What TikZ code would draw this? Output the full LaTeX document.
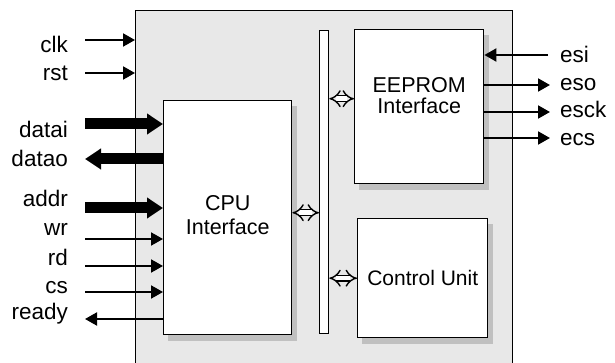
\documentclass[tikz,border=0pt]{standalone}
\usepackage{fontspec}
\setmainfont{Liberation Sans}
\usetikzlibrary{positioning, arrows.meta, calc}
\definecolor{chipgray}{HTML}{E8E8E8}
\definecolor{shadegray}{HTML}{C0C0C0}
\pgfdeclarelayer{back}
\pgfdeclarelayer{shade}
\pgfsetlayers{back,shade,main}

\begin{document}
\begin{tikzpicture}[
        x=1pt, y=-1pt,
        font=\fontsize{22.5}{24}\selectfont,
        box/.style  = {draw, line width=1.4pt, fill=white, anchor=north west, inner sep=0pt},
        sig/.style  = {-{Triangle[length=12pt, width=13pt]}, line width=2pt},
        wide/.style = {-{Triangle[length=16pt, width=20pt]}, line width=11pt},
        link/.style = {{Implies[length=6pt, width=17pt]}-{Implies[length=6pt, width=17pt]}, double, double distance=4.5pt, line width=1.4pt},
        lbl/.style  = {anchor=base east, inner sep=0pt},
        rlbl/.style = {anchor=base west, inner sep=0pt},
    ]
        \useasboundingbox (0,0) rectangle (615,363);
        \begin{pgfonlayer}{back}
            \node[draw, line width=1pt, fill=chipgray, anchor=north west, minimum width=377pt, minimum height=370pt, inner sep=0pt] (chip) at (135,10) {};
        \end{pgfonlayer}
        \node[box, minimum width=128pt, minimum height=234pt] (cpu) at (163,100) {};
        \node[box, minimum width=129pt, minimum height=154pt] (eep) at (354,29) {};
        \node[box, minimum width=130pt, minimum height=119pt] (ctl) at (357,218) {};
        \node[draw, line width=1.3pt, fill=white, anchor=north west, minimum width=9pt, minimum height=303pt, inner sep=0pt] (bus) at (319,30) {};
        % drop shadows
        \begin{pgfonlayer}{shade}
            \fill[shadegray] ([xshift=5pt, yshift=-6pt]cpu.south west) rectangle ([xshift=5pt, yshift=-6pt]cpu.north east);
            \fill[shadegray] ([xshift=5pt, yshift=-6pt]eep.south west) rectangle ([xshift=5pt, yshift=-6pt]eep.north east);
            \fill[shadegray] ([xshift=5pt, yshift=-6pt]ctl.south west) rectangle ([xshift=5pt, yshift=-6pt]ctl.north east);
        \end{pgfonlayer}
        \node[align=center, font=\fontsize{21.5}{24}\selectfont] (cpu-t) at ([yshift=2.5pt]cpu.center) {CPU\\Interface};
        \node[align=center, font=\fontsize{21.5}{20.5}\selectfont] (eep-t) at ([yshift=11pt]eep.center) {EEPROM\\Interface};
        \node[font=\fontsize{21}{24}\selectfont] (ctl-t) at (ctl.center) {Control Unit};
        % bus links
        \draw[link] ([yshift=5pt]cpu.east) -- ([yshift=5pt]cpu.east -| bus.west);
        \draw[link] ([yshift=8pt]eep.west -| bus.east) -- ([yshift=8pt]eep.west);
        \draw[link] (ctl.west -| bus.east) -- (ctl.west);
        % left side signals
        \coordinate (clk)   at (85,40);
        \coordinate (rst)   at (85,73);
        \coordinate (datai) at (85,124);
        \coordinate (datao) at (85,159);
        \coordinate (addr)  at (85,208);
        \coordinate (wr)    at (85,239);
        \coordinate (rd)    at (85,266);
        \coordinate (cs)    at (85,292);
        \coordinate (ready) at (85,319);
        \draw[sig]  (clk) -- (clk -| chip.west);
        \draw[sig]  (rst) -- (rst -| chip.west);
        \draw[wide] (datai) -- (datai -| cpu.west);
        \draw[wide] (datao -| cpu.west) -- (datao);
        \draw[wide] (addr) -- (addr -| cpu.west);
        \draw[sig]  (wr) -- (wr -| cpu.west);
        \draw[sig]  (rd) -- (rd -| cpu.west);
        \draw[sig]  (cs) -- (cs -| cpu.west);
        \draw[sig]  (ready -| cpu.west) -- (ready);
        \node[lbl] (clk-l)   at (68,53)  {clk};
        \node[lbl] (rst-l)   at (68,81)  {rst};
        \node[lbl] (datai-l) at (68,138) {datai};
        \node[lbl] (datao-l) at (68,167) {datao};
        \node[lbl] (addr-l)  at (68,207) {addr};
        \node[lbl] (wr-l)    at (68,236) {wr};
        \node[lbl] (rd-l)    at (68,265) {rd};
        \node[lbl] (cs-l)    at (68,293) {cs};
        \node[lbl] (ready-l) at (68,319) {ready};
        % right side signals
        \coordinate (esi)  at (548,55);
        \coordinate (eso)  at (550,85);
        \coordinate (esck) at (550,112);
        \coordinate (ecs)  at (550,138);
        \draw[sig] (esi) -- (esi -| eep.east);
        \draw[sig] (eso -| eep.east) -- (eso);
        \draw[sig] (esck -| eep.east) -- (esck);
        \draw[sig] (ecs -| eep.east) -- (ecs);
        \node[rlbl] (esi-l)  at (560,63)  {esi};
        \node[rlbl] (eso-l)  at (560,91)  {eso};
        \node[rlbl] (esck-l) at (560,118) {esck};
        \node[rlbl] (ecs-l)  at (560,146) {ecs};
    \end{tikzpicture}
\end{document}
